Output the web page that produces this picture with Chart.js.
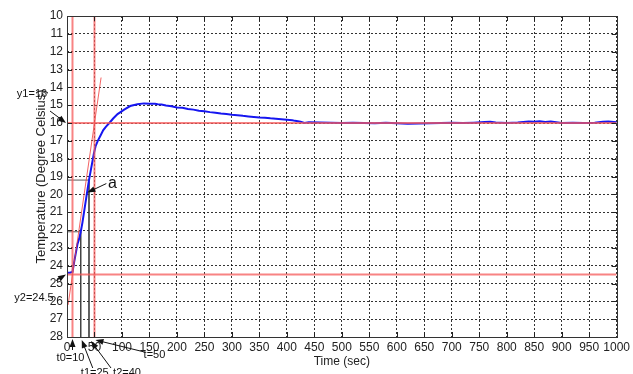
<!DOCTYPE html>
<html>
<head>
<meta charset="utf-8">
<script src="https://cdn.jsdelivr.net/npm/chart.js@4/dist/chart.umd.min.js"></script>
<style>
  html, body { margin: 0; padding: 0; background: #fff; }
  #wrap { width: 633px; height: 374px; }
</style>
</head>
<body>
<div id="wrap"><canvas id="c"></canvas></div>
<script>
// Measured step response of the heater (time in s, temperature in °C)
const time = [0, 5, 10, 13, 16, 19, 22, 25, 28, 31, 34, 37, 40, 43, 46, 49, 52, 56, 61, 66, 71, 77, 84, 92, 104,
  115, 128, 140, 152, 160, 165, 172, 180, 190, 200, 210, 220, 230, 240, 250, 260, 270, 280, 290, 300, 310, 320,
  330, 340, 350, 360, 370, 380, 390, 400, 410, 415, 425, 432, 440,
  460, 480, 500, 520, 540, 560, 580, 600, 620, 640, 660, 680, 700, 720, 740, 760, 770, 780, 800, 820, 840,
  850, 860, 870, 880, 890, 900, 920, 940, 960, 975, 985, 995, 1000];
const temperature = [24.4, 24.4, 24.35, 23.8, 23.3, 22.8, 22.5, 22.1, 21.6, 21.0, 20.4, 19.8, 19.2, 18.7, 18.2,
  17.7, 17.3, 17.0, 16.7, 16.4, 16.2, 16.0, 15.75, 15.5, 15.25, 15.05, 14.95, 14.9, 14.92, 14.92, 14.95, 14.96,
  15.02, 15.06, 15.13, 15.15, 15.22, 15.25, 15.31, 15.34, 15.39, 15.42, 15.47, 15.5, 15.54, 15.56, 15.6, 15.63,
  15.66, 15.69, 15.71, 15.74, 15.76, 15.79, 15.82, 15.85, 15.88, 15.93, 16.0, 15.96, 15.97, 15.98,
  16.0, 15.99, 16.0, 16.01, 15.99, 16.02, 16.04, 16.03, 16.01, 16.0, 15.99, 16.0, 15.98, 15.95, 15.93, 15.97,
  16.0, 15.97, 15.91, 15.93, 15.9, 15.94, 15.92, 15.96, 16.0, 15.99, 16.0, 15.98, 15.93, 15.91, 15.94, 15.96];

// Reference levels and construction lines
const levelTemps = [16, 24.5];          // y1 (final), y2 (initial)
const markerTimes = [10, 50];           // t0 and tangent end time t
const tangentTimes = [2, 62];
const tangentTemps = [26.2, 13.45];
const stepTimes = [25, 40];             // t1, t2
const stepTemps = [22.1, 19.2];         // response at t1, t2
const pointA = [37, 19.9];

// Axis ticks
const xTicks = [0, 50, 100, 150, 200, 250, 300, 350, 400, 450, 500, 550, 600, 650, 700, 750, 800, 850, 900, 950, 1000];
const yTicks = [10, 11, 12, 13, 14, 15, 16, 17, 18, 19, 20, 21, 22, 23, 24, 25, 26, 27, 28];

const X_MIN = xTicks[0], X_MAX = xTicks[xTicks.length - 1];
const Y_MIN = yTicks[0], Y_MAX = yTicks[yTicks.length - 1];

const RED = 'rgba(245,90,90,0.75)';
const GREY = 'rgba(60,60,60,0.85)';

const datasets = [];
datasets.push({
  data: time.map((t, i) => ({ x: t, y: temperature[i] })),
  borderColor: '#1616f0', borderWidth: 2, pointRadius: 0, tension: 0, order: 2
});
levelTemps.forEach(v => datasets.push({
  data: [{ x: X_MIN, y: v }, { x: X_MAX, y: v }],
  borderColor: RED, borderWidth: 2, pointRadius: 0, order: 1
}));
markerTimes.forEach(t => datasets.push({
  data: [{ x: t, y: Y_MIN }, { x: t, y: Y_MAX }],
  borderColor: RED, borderWidth: 2, pointRadius: 0, order: 1
}));
datasets.push({
  data: tangentTimes.map((t, i) => ({ x: t, y: tangentTemps[i] })),
  borderColor: 'rgba(240,60,60,0.8)', borderWidth: 1, pointRadius: 0, order: 1
});
stepTimes.forEach((t, i) => datasets.push({
  data: [{ x: X_MIN, y: stepTemps[i] }, { x: t, y: stepTemps[i] }, { x: t, y: Y_MAX }],
  borderColor: GREY, borderWidth: 1, pointRadius: 0, order: 3
}));

function arrow(ctx, x1, y1, x2, y2) {
  const ang = Math.atan2(y2 - y1, x2 - x1);
  const L = 8, W = 3;
  ctx.beginPath();
  ctx.moveTo(x1, y1);
  ctx.lineTo(x2 - Math.cos(ang) * L * 0.6, y2 - Math.sin(ang) * L * 0.6);
  ctx.stroke();
  ctx.beginPath();
  ctx.moveTo(x2, y2);
  ctx.lineTo(x2 - Math.cos(ang) * L - Math.sin(ang) * W, y2 - Math.sin(ang) * L + Math.cos(ang) * W);
  ctx.lineTo(x2 - Math.cos(ang) * L + Math.sin(ang) * W, y2 - Math.sin(ang) * L - Math.cos(ang) * W);
  ctx.closePath();
  ctx.fill();
}

const framePlugin = {
  id: 'frame',
  afterDatasetsDraw(chart) {
    const { ctx, chartArea: a, scales: { x, y } } = chart;
    ctx.save();
    // inward tick marks on all four sides
    ctx.strokeStyle = '#222';
    ctx.lineWidth = 1;
    ctx.beginPath();
    xTicks.forEach(v => {
      const px = Math.round(x.getPixelForValue(v)) + 0.5;
      ctx.moveTo(px, a.bottom); ctx.lineTo(px, a.bottom - 5);
      ctx.moveTo(px, a.top); ctx.lineTo(px, a.top + 5);
    });
    yTicks.forEach(v => {
      const py = Math.round(y.getPixelForValue(v)) + 0.5;
      ctx.moveTo(a.left, py); ctx.lineTo(a.left + 5, py);
      ctx.moveTo(a.right, py); ctx.lineTo(a.right - 5, py);
    });
    ctx.stroke();
    ctx.strokeStyle = '#333';
    ctx.strokeRect(Math.round(a.left) + 0.5, Math.round(a.top) + 0.5,
      Math.round(a.right - a.left), Math.round(a.bottom - a.top));

    // annotations
    ctx.fillStyle = '#111';
    ctx.strokeStyle = '#111';
    ctx.lineWidth = 1;
    ctx.font = '11px "Liberation Sans Narrow", "Liberation Sans", sans-serif';
    ctx.textAlign = 'center';
    ctx.textBaseline = 'middle';

    const y1 = y.getPixelForValue(levelTemps[0]);
    ctx.fillText('y1=' + levelTemps[0], 32, y1 - 29);
    arrow(ctx, 50, y1 - 12, a.left - 1, y1);

    const y2 = y.getPixelForValue(levelTemps[1]);
    ctx.fillText('y2=' + levelTemps[1], 34, y2 + 23);
    arrow(ctx, 56, y2 + 6, a.left - 1, y2);

    const ax = x.getPixelForValue(pointA[0]), ay = y.getPixelForValue(pointA[1]);
    ctx.font = '16px "Liberation Sans", sans-serif';
    ctx.fillText('a', ax + 25, ay - 9);
    arrow(ctx, ax + 19, ay - 9, ax, ay);

    ctx.font = '11px "Liberation Sans Narrow", "Liberation Sans", sans-serif';
    const t0 = x.getPixelForValue(markerTimes[0]);
    ctx.fillText('t0=' + markerTimes[0], t0 - 2, a.bottom + 21);
    arrow(ctx, t0, a.bottom + 13, t0, a.bottom + 2);

    const t1 = x.getPixelForValue(stepTimes[0]);
    ctx.fillText('t1=' + stepTimes[0], t1 + 14, a.bottom + 36);
    arrow(ctx, t1 + 12, a.bottom + 31, t1 + 1, a.bottom + 3);

    const t2 = x.getPixelForValue(stepTimes[1]);
    ctx.fillText('t2=' + stepTimes[1], t2 + 38, a.bottom + 36);
    arrow(ctx, t2 + 22, a.bottom + 31, t2 + 2, a.bottom + 4);

    const tt = x.getPixelForValue(markerTimes[1]);
    ctx.fillText('t=' + markerTimes[1], tt + 60, a.bottom + 18);
    arrow(ctx, tt + 50, a.bottom + 15, tt + 1, a.bottom + 3);
    ctx.restore();
  }
};

const tickFont = { family: '"Liberation Sans Narrow", "Liberation Sans", sans-serif', size: 12 };

new Chart(document.getElementById('c'), {
  type: 'line',
  data: { datasets },
  plugins: [framePlugin],
  options: {
    responsive: true,
    maintainAspectRatio: false,
    animation: false,
    layout: { padding: { top: 16, right: 15, left: 0, bottom: 0 } },
    plugins: { legend: { display: false }, tooltip: { enabled: false } },
    scales: {
      x: {
        type: 'linear', min: X_MIN, max: X_MAX,
        afterBuildTicks: s => { s.ticks = xTicks.map(v => ({ value: v })); },
        afterFit: s => { s.height = 37; },
        border: { display: false, dash: [2, 2] },
        grid: { color: 'rgba(0,0,0,0.8)', lineWidth: 1, drawTicks: false },
        ticks: { padding: 3, color: '#222', maxRotation: 0, autoSkip: false, font: tickFont,
          callback: v => String(v) },
        title: { display: true, text: 'Time (sec)', color: '#222', padding: { top: 0, bottom: 5 },
          font: { family: '"Liberation Sans", sans-serif', size: 12 } }
      },
      y: {
        type: 'linear', min: Y_MIN, max: Y_MAX, reverse: true,
        afterBuildTicks: s => { s.ticks = yTicks.map(v => ({ value: v })); },
        afterFit: s => { s.width = 67; },
        border: { display: false, dash: [2, 2] },
        grid: { color: 'rgba(0,0,0,0.8)', lineWidth: 1, drawTicks: false },
        ticks: { padding: 4, color: '#222', autoSkip: false, font: tickFont,
          callback: v => String(v) },
        title: { display: true, text: 'Temperature (Degree Celsius)', color: '#222', padding: { top: 34, bottom: 0 },
          font: { family: '"Liberation Sans", sans-serif', size: 13 } }
      }
    }
  }
});
</script>
</body>
</html>
